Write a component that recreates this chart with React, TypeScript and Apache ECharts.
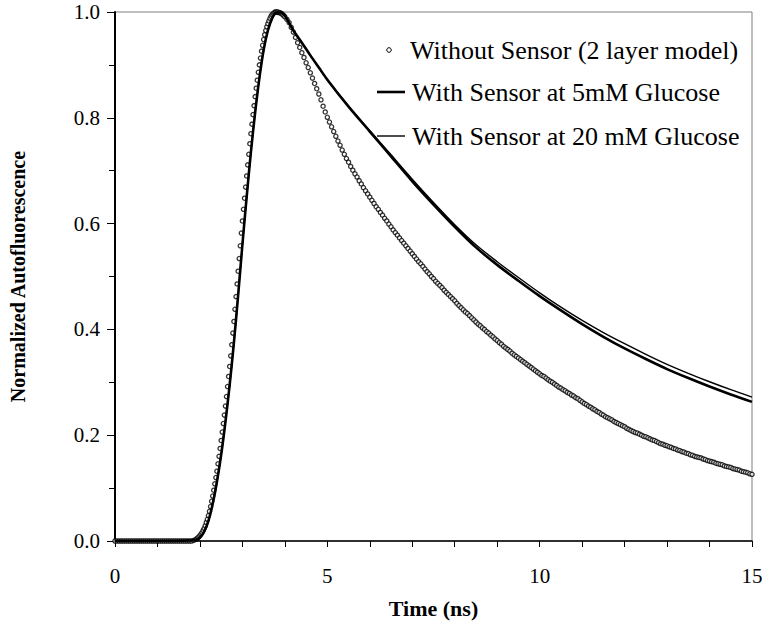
import React, { useEffect, useRef } from "react";
import * as echarts from "echarts";

// Without sensor (2 layer model).
// Segment A: t = 0 .. 1.90 ns, every 0.05 ns
const withoutSensorA: number[] = [
  0, 0, 0, 0, 0, 0, 0, 0, 0, 0, 0, 0, 0, 0, 0, 0, 0, 0, 0, 0,
  0, 0, 0, 0, 0, 0, 0, 0, 0, 0, 0, 0, 0, 0, 0, 0, 0, 0.001, 0.003,
];
// Segment B: t = 1.925 .. 4.000 ns, every 0.025 ns (steep rise, markers dense)
const withoutSensorB: number[] = [
  0.004, 0.006, 0.008, 0.010, 0.013, 0.016, 0.020, 0.024, 0.029, 0.035, 0.041, 0.048,
  0.056, 0.065, 0.075, 0.085, 0.096, 0.108, 0.120, 0.132, 0.146, 0.160, 0.175, 0.190,
  0.206, 0.222, 0.238, 0.255, 0.273, 0.292, 0.311, 0.330, 0.350, 0.371, 0.393, 0.415,
  0.438, 0.462, 0.486, 0.510, 0.534, 0.558, 0.582, 0.605, 0.627, 0.648, 0.669, 0.690,
  0.711, 0.731, 0.751, 0.770, 0.788, 0.806, 0.823, 0.840, 0.856, 0.871, 0.886, 0.900,
  0.913, 0.926, 0.937, 0.948, 0.957, 0.965, 0.972, 0.978, 0.983, 0.988, 0.992, 0.995,
  0.997, 0.999, 1.000, 1.000, 1.000, 0.999, 0.999, 0.998, 0.997, 0.995, 0.993, 0.991,
];
// Segment C: t = 4.05 .. 15.00 ns, every 0.05 ns
const withoutSensorC: number[] = [
  0.986, 0.980, 0.971, 0.962, 0.952, 0.942, 0.933, 0.923, 0.914, 0.904,
  0.895, 0.885, 0.875, 0.865, 0.855, 0.845, 0.834, 0.822, 0.811, 0.801,
  0.792, 0.783, 0.774, 0.765, 0.756, 0.748, 0.739, 0.731, 0.723, 0.716,
  0.708, 0.701, 0.694, 0.688, 0.681, 0.675, 0.668, 0.662, 0.656, 0.650,
  0.644, 0.638, 0.632, 0.627, 0.621, 0.616, 0.610, 0.605, 0.599, 0.594,
  0.588, 0.583, 0.578, 0.573, 0.568, 0.563, 0.558, 0.553, 0.548, 0.543,
  0.538, 0.533, 0.528, 0.524, 0.519, 0.514, 0.509, 0.505, 0.500, 0.496,
  0.491, 0.487, 0.483, 0.479, 0.474, 0.470, 0.466, 0.462, 0.458, 0.454,
  0.449, 0.445, 0.441, 0.437, 0.433, 0.430, 0.426, 0.422, 0.418, 0.414,
  0.410, 0.407, 0.403, 0.400, 0.396, 0.393, 0.389, 0.386, 0.382, 0.379,
  0.375, 0.372, 0.368, 0.365, 0.362, 0.359, 0.355, 0.352, 0.349, 0.346,
  0.343, 0.340, 0.337, 0.334, 0.331, 0.328, 0.325, 0.322, 0.319, 0.316,
  0.313, 0.311, 0.308, 0.305, 0.302, 0.300, 0.297, 0.294, 0.291, 0.289,
  0.286, 0.284, 0.281, 0.279, 0.276, 0.274, 0.271, 0.269, 0.266, 0.263,
  0.260, 0.258, 0.255, 0.253, 0.250, 0.248, 0.245, 0.243, 0.240, 0.238,
  0.235, 0.233, 0.231, 0.229, 0.226, 0.224, 0.222, 0.220, 0.218, 0.216,
  0.213, 0.211, 0.209, 0.207, 0.205, 0.204, 0.202, 0.200, 0.198, 0.197,
  0.195, 0.193, 0.191, 0.190, 0.188, 0.186, 0.184, 0.183, 0.181, 0.180,
  0.178, 0.177, 0.175, 0.174, 0.172, 0.171, 0.169, 0.168, 0.166, 0.165,
  0.163, 0.162, 0.160, 0.159, 0.158, 0.157, 0.155, 0.154, 0.152, 0.151,
  0.150, 0.149, 0.147, 0.146, 0.145, 0.144, 0.142, 0.141, 0.140, 0.139,
  0.137, 0.136, 0.135, 0.134, 0.132, 0.131, 0.130, 0.129, 0.127, 0.126,
];

// Sample times (ns) for the two sensor curves
const sensorTime: number[] = [
  0, 1, 1.8, 1.9, 2.0, 2.1, 2.2, 2.3, 2.4, 2.5, 2.6, 2.7, 2.8, 2.9, 3.0,
  3.1, 3.2, 3.3, 3.4, 3.5, 3.6, 3.7, 3.8, 3.9, 4.0, 4.2, 4.4, 4.6, 4.8, 5.0,
  5.5, 6.0, 6.5, 7.0, 7.5, 8.0, 8.5, 9.0, 9.5, 10.0, 10.5, 11.0, 11.5, 12.0,
  12.5, 13.0, 13.5, 14.0, 14.5, 15.0,
];

const sensor5mM: number[] = [
  0, 0, 0.001, 0.002, 0.007, 0.018, 0.038, 0.070, 0.112, 0.163, 0.225, 0.295,
  0.375, 0.465, 0.560, 0.650, 0.735, 0.810, 0.875, 0.928, 0.965, 0.988, 0.999,
  0.999, 0.993, 0.965, 0.942, 0.918, 0.895, 0.872,
  0.821, 0.774, 0.727, 0.680, 0.636, 0.594, 0.555, 0.522, 0.492, 0.463,
  0.436, 0.410, 0.386, 0.364, 0.344, 0.325, 0.308, 0.292, 0.277, 0.263,
];

const sensor20mM: number[] = [
  0, 0, 0.001, 0.002, 0.007, 0.018, 0.038, 0.070, 0.112, 0.163, 0.225, 0.295,
  0.375, 0.465, 0.560, 0.650, 0.735, 0.810, 0.875, 0.928, 0.965, 0.988, 0.999,
  0.999, 0.993, 0.965, 0.942, 0.918, 0.895, 0.872,
  0.822, 0.776, 0.730, 0.684, 0.640, 0.598, 0.560, 0.528, 0.498, 0.469,
  0.442, 0.417, 0.394, 0.373, 0.353, 0.334, 0.317, 0.301, 0.286, 0.272,
];

const xTickLabels = ["0", "5", "10", "15"];

const seriesNames = [
  "Without Sensor (2 layer model)",
  "With Sensor at 5mM Glucose",
  "With Sensor at 20 mM Glucose",
];

const xTitle = "Time (ns)";
const yTitle = "Normalized Autofluorescence";

const FONT = "Liberation Serif";

const r3 = (v: number) => Math.round(v * 1000) / 1000;

export default function App() {
  const ref = useRef<HTMLDivElement>(null);

  useEffect(() => {
    if (!ref.current) return;
    const chart = echarts.init(ref.current, undefined, { renderer: "svg" });

    const circles: number[][] = [];
    withoutSensorA.forEach((v, i) => circles.push([r3(i * 0.05), v]));
    withoutSensorB.forEach((v, i) => circles.push([r3(1.9 + (i + 1) * 0.025), v]));
    withoutSensorC.forEach((v, i) => circles.push([r3(4.0 + (i + 1) * 0.05), v]));

    const s5 = sensorTime.map((t, i) => [t, sensor5mM[i]]);
    const s20 = sensorTime.map((t, i) => [t, sensor20mM[i]]);

    const baseX = {
      type: "value",
      min: 0,
      max: 15,
      interval: 1,
      splitLine: { show: false },
    };
    const baseY = {
      type: "value",
      min: 0,
      max: 1,
      interval: 0.2,
      splitLine: { show: false },
    };

    const legendRows = [50, 92, 136];

    chart.setOption({
      animation: false,
      backgroundColor: "#fff",
      grid: {
        left: 115,
        top: 12,
        right: 14,
        bottom: 87,
        show: true,
        borderColor: "#7f7f7f",
        borderWidth: 1,
        backgroundColor: "transparent",
      },
      xAxis: [
        {
          ...baseX,
          name: xTitle,
          nameLocation: "middle",
          nameGap: 56,
          nameTextStyle: {
            fontFamily: FONT,
            fontWeight: "bold",
            fontSize: 22,
            color: "#000",
            verticalAlign: "top",
          },
          axisLine: { show: true, lineStyle: { color: "#000", width: 1.5 } },
          axisTick: { show: true, inside: false, length: 6, lineStyle: { color: "#000", width: 1 } },
          axisLabel: {
            show: true,
            margin: 24,
            fontFamily: FONT,
            fontSize: 21,
            color: "#000",
            formatter: (v: number) => {
              const s = String(v);
              return xTickLabels.includes(s) ? s : "";
            },
          },
        },
        {
          ...baseX,
          axisLine: { show: false },
          axisTick: { show: true, inside: true, length: 6, lineStyle: { color: "#000", width: 1 } },
          axisLabel: { show: false },
        },
      ],
      yAxis: [
        {
          ...baseY,
          name: yTitle,
          nameLocation: "middle",
          nameRotate: 90,
          nameGap: 87,
          nameTextStyle: {
            fontFamily: FONT,
            fontWeight: "bold",
            fontSize: 20,
            color: "#000",
          },
          axisLine: { show: true, lineStyle: { color: "#000", width: 2 } },
          axisTick: { show: true, inside: false, length: 8, lineStyle: { color: "#000", width: 1 } },
          minorTick: { show: true, splitNumber: 2, length: 6, lineStyle: { color: "#000", width: 1 } },
          axisLabel: {
            show: true,
            margin: 15,
            fontFamily: FONT,
            fontSize: 21,
            color: "#000",
            formatter: (v: number) => v.toFixed(1),
          },
        },
        {
          ...baseY,
          axisLine: { show: false },
          axisTick: { show: true, inside: true, length: 8, lineStyle: { color: "#000", width: 1 } },
          minorTick: { show: true, splitNumber: 2, length: 6, lineStyle: { color: "#000", width: 1 } },
          axisLabel: { show: false },
        },
      ],
      series: [
        {
          name: seriesNames[0],
          type: "scatter",
          xAxisIndex: 0,
          yAxisIndex: 0,
          data: circles,
          symbol: "circle",
          symbolSize: 4.2,
          itemStyle: { color: "#fff", borderColor: "#000", borderWidth: 1.3 },
          z: 3,
        },
        {
          name: seriesNames[1],
          type: "line",
          xAxisIndex: 0,
          yAxisIndex: 0,
          data: s5,
          showSymbol: false,
          symbol: "none",
          smooth: 0.3,
          lineStyle: { color: "#000", width: 2.6 },
          z: 4,
        },
        {
          name: seriesNames[2],
          type: "line",
          xAxisIndex: 0,
          yAxisIndex: 0,
          data: s20,
          showSymbol: false,
          symbol: "none",
          smooth: 0.3,
          lineStyle: { color: "#000", width: 1.4 },
          z: 4,
        },
      ],
      graphic: [
        {
          type: "circle",
          shape: { cx: 389, cy: legendRows[0], r: 2.3 },
          style: { fill: "#fff", stroke: "#000", lineWidth: 1 },
          z: 10,
        },
        {
          type: "text",
          x: 410,
          y: legendRows[0],
          style: {
            text: seriesNames[0],
            fontFamily: FONT,
            fontSize: 26,
            fill: "#000",
            verticalAlign: "middle",
          },
          z: 10,
        },
        {
          type: "line",
          shape: { x1: 377, y1: legendRows[1], x2: 405, y2: legendRows[1] },
          style: { stroke: "#000", lineWidth: 2.6 },
          z: 10,
        },
        {
          type: "text",
          x: 412,
          y: legendRows[1],
          style: {
            text: seriesNames[1],
            fontFamily: FONT,
            fontSize: 26,
            fill: "#000",
            verticalAlign: "middle",
          },
          z: 10,
        },
        {
          type: "line",
          shape: { x1: 377, y1: legendRows[2], x2: 405, y2: legendRows[2] },
          style: { stroke: "#000", lineWidth: 1.4 },
          z: 10,
        },
        {
          type: "text",
          x: 412,
          y: legendRows[2],
          style: {
            text: seriesNames[2],
            fontFamily: FONT,
            fontSize: 26,
            fill: "#000",
            verticalAlign: "middle",
          },
          z: 10,
        },
      ],
    });

    return () => chart.dispose();
  }, []);

  return <div ref={ref} style={{ width: 766, height: 628, position: "absolute", left: 0, top: 0 }} />;
}
